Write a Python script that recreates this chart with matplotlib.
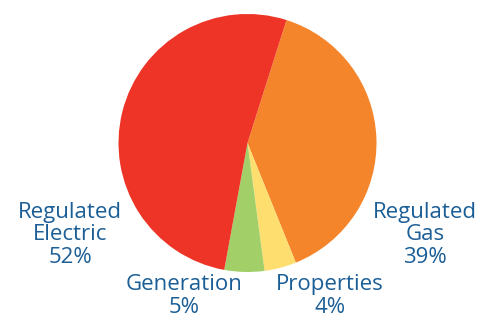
import matplotlib
matplotlib.use("Agg")
import matplotlib.pyplot as plt

# data, clockwise from the top boundary
segments = ["Regulated Gas", "Properties", "Generation", "Regulated Electric"]
shares = [39, 4, 5, 52]
colors = ["#F5852A", "#FEDE6E", "#A3CF69", "#EE3426"]
label_text = ["Regulated\nGas\n39%", "Properties\n4%", "Generation\n5%", "Regulated\nElectric\n52%"]

W, H = 487, 318
fig = plt.figure(figsize=(W / 100, H / 100), dpi=100)
fig.patch.set_facecolor("white")

cx, cy, r = 247.5, 143, 129
ax = fig.add_axes([(cx - r) / W, 1 - (cy + r) / H, 2 * r / W, 2 * r / H])
ax.pie(shares, colors=colors, startangle=72.4, counterclock=False,
       radius=1, wedgeprops=dict(linewidth=0))
ax.set_xlim(-1, 1)
ax.set_ylim(-1, 1)
ax.set_aspect("equal")
ax.axis("off")

txt_color = "#1B5E96"
# label centres in pixels
label_pos = [(425, 235), (330, 296), (184, 296), (70, 235)]
for t, (x, y) in zip(label_text, label_pos):
    fig.text(x / W, 1 - y / H, t, ha="center", va="center", color=txt_color,
             fontsize=16, family="Open Sans", linespacing=1.08)

fig.savefig("out.png", dpi=100)
